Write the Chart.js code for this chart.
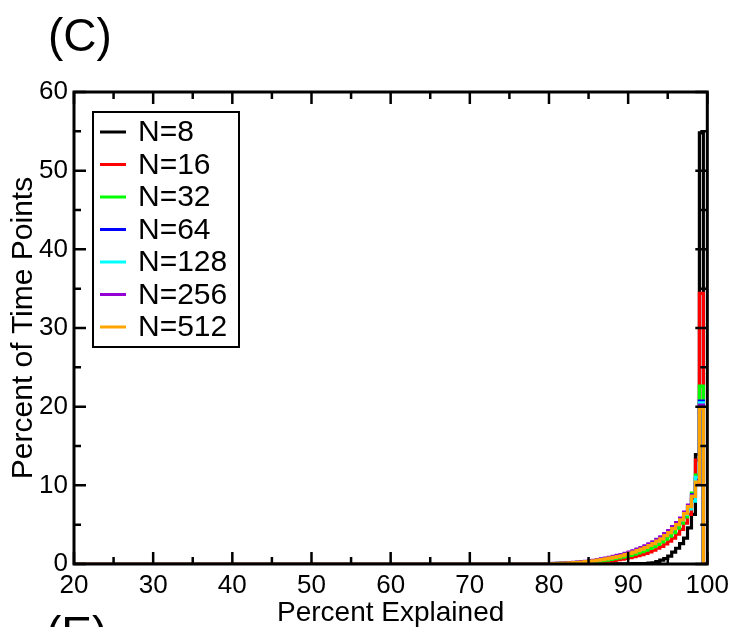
<!DOCTYPE html>
<html>
<head>
<meta charset="utf-8">
<script src="https://cdn.jsdelivr.net/npm/chart.js@4.4.1/dist/chart.umd.min.js"></script>
<style>
  html, body { margin: 0; padding: 0; background: #fff; }
  #wrap { width: 735px; height: 627px; position: relative; }
</style>
</head>
<body>
<div id="wrap"><canvas id="c" width="735" height="627"></canvas></div>
<script>
// ---- data (bin left edges, % explained; bin width 0.5) ----
const binEdges = [80, 80.5, 81, 81.5, 82, 82.5, 83, 83.5, 84, 84.5,
                  85, 85.5, 86, 86.5, 87, 87.5, 88, 88.5, 89, 89.5,
                  90, 90.5, 91, 91.5, 92, 92.5, 93, 93.5, 94, 94.5,
                  95, 95.5, 96, 96.5, 97, 97.5, 98, 98.5, 99];
const binEnd = 99.5;
const axisMinX = 20, axisMaxX = 100;
const seriesLabels = ['N=8', 'N=16', 'N=32', 'N=64', 'N=128', 'N=256', 'N=512'];
const seriesColors = ['#000000', '#ff0000', '#00ff00', '#0000ff', '#00ffff', '#9400d3', '#ffa500'];

const n8 = [0,0,0,0,0,0,0,0,0,0,
            0,0,0,0,0,0,0.02,0.02,0.03,0.03,
            0.03,0.04,0.04,0.05,0.05,0.1,0.15,0.3,0.5,0.7,
            1.0,1.5,2.0,2.6,3.3,4.6,6.3,13.9,
            54.8];
const n16 = [0.02,0.03,0.04,0.05,0.06,0.07,0.08,0.1,0.12,0.14,
             0.17,0.2,0.24,0.28,0.33,0.4,0.47,0.55,0.63,0.72,
             0.82,0.93,1.05,1.2,1.35,1.55,1.75,2.0,2.25,2.55,
             2.9,3.3,3.8,4.4,5.2,6.3,8.2,13.2,
             34.4];
const n32 = [0.03,0.04,0.06,0.07,0.09,0.11,0.13,0.15,0.18,0.22,
             0.26,0.31,0.37,0.43,0.5,0.58,0.67,0.77,0.87,0.98,
             1.1,1.24,1.4,1.57,1.76,1.98,2.2,2.5,2.8,3.15,
             3.55,4.0,4.55,5.2,6.0,7.1,9.0,11.3,
             22.6];
const n64 = [0.05,0.06,0.08,0.1,0.13,0.16,0.19,0.22,0.27,0.32,
             0.38,0.44,0.52,0.6,0.7,0.8,0.92,1.03,1.15,1.3,
             1.45,1.62,1.8,2.0,2.22,2.47,2.73,3.03,3.35,3.75,
             4.15,4.65,5.15,5.75,6.5,7.4,8.8,10.8,
             20.7];
const n128 = [0.05,0.05,0.07,0.1,0.12,0.15,0.18,0.21,0.26,0.31,
              0.36,0.42,0.5,0.57,0.67,0.78,0.88,0.99,1.1,1.25,
              1.4,1.56,1.75,1.95,2.16,2.4,2.66,2.95,3.27,3.66,
              4.05,4.55,5.05,5.6,6.3,7.0,8.0,11.0,
              20.5];
const n256 = [0.06,0.07,0.09,0.12,0.14,0.17,0.21,0.24,0.29,0.35,
              0.41,0.47,0.56,0.64,0.74,0.85,0.97,1.09,1.2,1.36,
              1.52,1.68,1.88,2.08,2.3,2.55,2.82,3.12,3.45,3.85,
              4.25,4.75,5.25,5.85,6.6,7.5,8.7,10.2,
              20.2];
const n512 = [0.05,0.05,0.08,0.1,0.12,0.15,0.18,0.2,0.25,0.3,
              0.35,0.4,0.5,0.55,0.65,0.75,0.85,0.95,1.05,1.2,
              1.35,1.5,1.7,1.9,2.1,2.35,2.6,2.9,3.2,3.6,
              4.0,4.5,5.0,5.6,6.4,7.3,8.6,10.4,
              19.8];
const seriesValues = [n8, n16, n32, n64, n128, n256, n512];

const xTickLabels = [20, 30, 40, 50, 60, 70, 80, 90, 100];
const yTickLabels = [0, 10, 20, 30, 40, 50, 60];
const panelLabel = '(C)';
const nextPanelLabel = '(E)';
const xTitle = 'Percent Explained';
const yTitle = 'Percent of Time Points';

const FONT = '"Liberation Sans", Arial, Helvetica, sans-serif';

function toSteps(vals) {
  const pts = [{x: axisMinX, y: 0}];
  for (let i = 0; i < binEdges.length; i++) pts.push({x: binEdges[i], y: vals[i]});
  pts.push({x: binEnd, y: 0});
  pts.push({x: axisMaxX, y: 0});
  return pts;
}

const datasets = seriesLabels.map((lab, i) => ({
  label: lab,
  data: toSteps(seriesValues[i]),
  borderColor: seriesColors[i],
  backgroundColor: seriesColors[i],
  borderWidth: 3.2,
  pointRadius: 0,
  stepped: true,
  fill: false,
  order: seriesLabels.length - i
}));

const decorPlugin = {
  id: 'decor',
  afterDraw(chart) {
    const ctx = chart.ctx;
    const {left, right, top, bottom} = chart.chartArea;
    const xs = chart.scales.x, ys = chart.scales.y;
    ctx.save();
    ctx.strokeStyle = '#000';
    ctx.lineCap = 'butt';
    // inward ticks on all sides
    ctx.lineWidth = 2.5;
    for (let v = axisMinX; v <= axisMaxX; v += 5) {
      const px = xs.getPixelForValue(v);
      const L = (v % 10 === 0) ? 12 : 7;
      ctx.beginPath();
      ctx.moveTo(px, bottom); ctx.lineTo(px, bottom - L);
      ctx.moveTo(px, top); ctx.lineTo(px, top + L);
      ctx.stroke();
    }
    for (let v = 0; v <= 60; v += 5) {
      const py = ys.getPixelForValue(v);
      const L = (v % 10 === 0) ? 12 : 7;
      ctx.beginPath();
      ctx.moveTo(left, py); ctx.lineTo(left + L, py);
      ctx.moveTo(right, py); ctx.lineTo(right - L, py);
      ctx.stroke();
    }
    // frame
    ctx.lineWidth = 3;
    ctx.strokeRect(left, top, right - left, bottom - top);

    // legend
    const lx = 93, ly = 112, lw = 146, lh = 235;
    ctx.fillStyle = '#fff';
    ctx.fillRect(lx, ly, lw, lh);
    ctx.lineWidth = 2;
    ctx.strokeRect(lx, ly, lw, lh);
    ctx.font = '30px ' + FONT;
    ctx.textBaseline = 'middle';
    ctx.textAlign = 'left';
    for (let i = 0; i < seriesLabels.length; i++) {
      const y = 132 + i * 32.5;
      ctx.strokeStyle = seriesColors[i];
      ctx.lineWidth = 3;
      ctx.beginPath();
      ctx.moveTo(100, y); ctx.lineTo(126, y);
      ctx.stroke();
      ctx.fillStyle = '#000';
      ctx.fillText(seriesLabels[i], 138, y + 1);
    }

    // panel labels
    ctx.fillStyle = '#000';
    ctx.font = '46px ' + FONT;
    ctx.textBaseline = 'alphabetic';
    ctx.fillText(panelLabel, 48, 51);
    ctx.fillText(nextPanelLabel, 46, 649);
    ctx.restore();
  }
};

new Chart(document.getElementById('c'), {
  type: 'line',
  data: { datasets },
  options: {
    responsive: false,
    animation: false,
    events: [],
    layout: { padding: { top: 92, right: 27, left: 0, bottom: 0 } },
    plugins: { legend: { display: false }, tooltip: { enabled: false } },
    scales: {
      x: {
        type: 'linear',
        min: axisMinX, max: axisMaxX,
        afterFit(s) { s.height = 63; },
        afterBuildTicks(s) { s.ticks = xTickLabels.map(v => ({value: v})); },
        grid: { display: false, drawTicks: false },
        border: { display: false },
        ticks: { color: '#000', font: { size: 26, family: FONT }, padding: 6, maxRotation: 0, autoSkip: false },
        title: { display: true, text: xTitle, color: '#000', font: { size: 28, family: FONT, lineHeight: 1 }, padding: { top: 0, bottom: 0 } }
      },
      y: {
        type: 'linear',
        min: 0, max: 60,
        afterFit(s) { s.width = 74; },
        afterBuildTicks(s) { s.ticks = yTickLabels.map(v => ({value: v})); },
        grid: { display: false, drawTicks: false },
        border: { display: false },
        ticks: { color: '#000', font: { size: 26, family: FONT }, padding: 6, autoSkip: false },
        title: { display: true, text: yTitle, color: '#000', font: { size: 30, family: FONT, lineHeight: 1 }, padding: { top: 9, bottom: 0 } }
      }
    }
  },
  plugins: [decorPlugin]
});
</script>
</body>
</html>
